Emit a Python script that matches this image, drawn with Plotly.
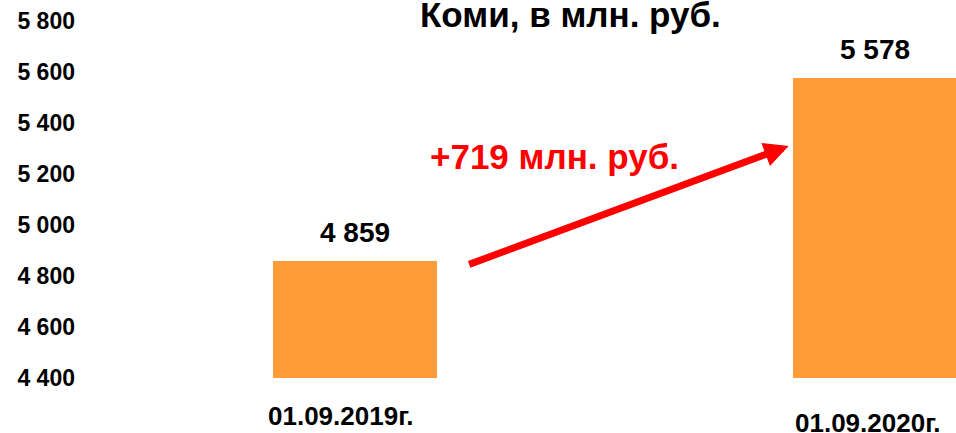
import plotly.graph_objects as go

categories = ["01.09.2019г.", "01.09.2020г."]
values = [4859, 5578]
value_labels = ["4 859", "5 578"]
tick_vals = [4400, 4600, 4800, 5000, 5200, 5400, 5600, 5800]
tick_text = ["4 400", "4 600", "4 800", "5 000", "5 200", "5 400", "5 600", "5 800"]
title_text = "Коми, в млн. руб."
delta_text = "+719 млн. руб."

FONT = "Liberation Sans, Arial, sans-serif"
idx = list(range(len(categories)))

fig = go.Figure()
fig.add_trace(go.Bar(
    x=idx, y=values, width=0.316,
    base=0, marker=dict(color="#FF9B38", line=dict(width=0)),
    hoverinfo="skip",
))

annotations = []
# value labels
for i, (v, lab) in enumerate(zip(values, value_labels)):
    annotations.append(dict(
        x=i, y=v, xref="x", yref="y", text=lab, showarrow=False,
        yanchor="middle", yshift=28,
        font=dict(family=FONT, size=28, color="#000000", weight="bold"),
    ))
# category labels (at different heights as in the reference)
cat_pos = [(-0.106, -14), (-0.126, -7)]
for i, (cat, (py, xs)) in enumerate(zip(categories, cat_pos)):
    annotations.append(dict(
        x=i, y=py, xref="x", yref="paper", text=cat, showarrow=False,
        yanchor="middle", xshift=xs,
        font=dict(family=FONT, size=26, color="#000000", weight="bold"),
    ))
# title
annotations.append(dict(
    x=0.5614, y=1.017, xref="paper", yref="paper", text=title_text,
    showarrow=False, yanchor="middle",
    font=dict(family=FONT, size=35, color="#000000", weight="bold"),
))
# delta text
annotations.append(dict(
    x=0.3836, y=5270, xref="x", yref="y", text=delta_text,
    showarrow=False, yanchor="middle",
    font=dict(family=FONT, size=35, color="#FF0000", weight="bold"),
))
# arrow
annotations.append(dict(
    x=0.834, y=5310, xref="x", yref="y", ax=-321, ay=119,
    text="", showarrow=True, arrowhead=2, arrowsize=0.7, arrowwidth=7,
    arrowcolor="#FF0000", standoff=0, startstandoff=0,
))

fig.update_layout(
    width=956, height=433,
    margin=dict(l=76, r=0, t=21, b=55),
    paper_bgcolor="white", plot_bgcolor="white",
    showlegend=False,
    bargap=0,
    annotations=annotations,
    xaxis=dict(range=[-0.5365, 1.1558], showgrid=False, zeroline=False,
               showticklabels=False, showline=False, ticks=""),
    yaxis=dict(range=[4400, 5800], tickvals=tick_vals, ticktext=tick_text,
               showgrid=False, zeroline=False, showline=False, ticks="",
               tickfont=dict(family=FONT, size=23, color="#000000", weight="bold")),
)

fig.write_html(
    "out.html",
    config={"displayModeBar": False},
    post_script="document.body.style.margin='0';document.body.style.overflow='hidden';",
)
